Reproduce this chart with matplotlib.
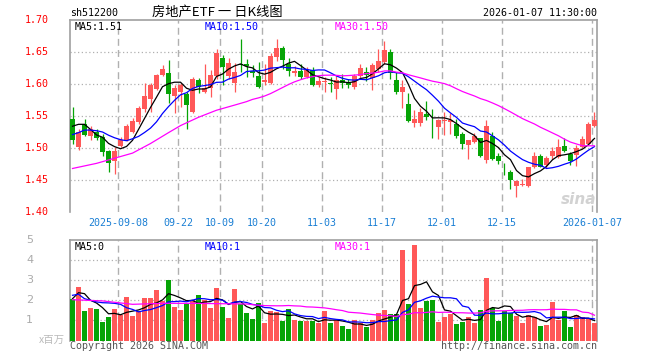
import matplotlib
matplotlib.use("Agg")
import matplotlib.pyplot as plt
import numpy as np
import pandas as pd

# daily bars, 2025-08-27 .. 2026-01-07 (88 trading days)
opens = [1.545, 1.502, 1.538, 1.518, 1.525, 1.517, 1.495, 1.479, 1.503, 1.512,
         1.525, 1.540, 1.561, 1.577, 1.592, 1.614, 1.617, 1.582, 1.587, 1.584,
         1.556, 1.606, 1.587, 1.594, 1.613, 1.640, 1.612, 1.602, 1.632, 1.631,
         1.621, 1.612, 1.603, 1.602, 1.642, 1.656, 1.632, 1.617, 1.620, 1.611,
         1.622, 1.599, 1.603, 1.601, 1.592, 1.607, 1.602, 1.595, 1.612, 1.619,
         1.610, 1.623, 1.634, 1.650, 1.606, 1.587, 1.569, 1.539, 1.539, 1.553,
         1.544, 1.533, 1.542, 1.541, 1.538, 1.522, 1.505, 1.509, 1.515, 1.482,
         1.519, 1.487, 1.463, 1.462, 1.440, 1.442, 1.440, 1.470, 1.488, 1.473,
         1.487, 1.486, 1.503, 1.491, 1.489, 1.501, 1.506, 1.535]
closes = [1.512, 1.525, 1.520, 1.529, 1.516, 1.494, 1.477, 1.495, 1.512, 1.534,
          1.542, 1.562, 1.581, 1.598, 1.614, 1.624, 1.585, 1.593, 1.598, 1.567,
          1.608, 1.595, 1.593, 1.614, 1.649, 1.627, 1.633, 1.618, 1.630, 1.628,
          1.617, 1.596, 1.606, 1.644, 1.656, 1.637, 1.620, 1.620, 1.611, 1.622,
          1.599, 1.605, 1.605, 1.600, 1.606, 1.601, 1.598, 1.613, 1.625, 1.614,
          1.630, 1.636, 1.653, 1.617, 1.588, 1.595, 1.542, 1.545, 1.556, 1.549,
          1.543, 1.543, 1.544, 1.543, 1.518, 1.507, 1.512, 1.518, 1.488, 1.534,
          1.483, 1.480, 1.462, 1.450, 1.449, 1.443, 1.470, 1.488, 1.471, 1.484,
          1.495, 1.502, 1.495, 1.480, 1.500, 1.514, 1.537, 1.544]
highs = [1.564, 1.529, 1.545, 1.535, 1.529, 1.522, 1.497, 1.501, 1.517, 1.537,
         1.547, 1.565, 1.601, 1.602, 1.616, 1.630, 1.637, 1.599, 1.601, 1.587,
         1.611, 1.610, 1.631, 1.622, 1.655, 1.645, 1.641, 1.633, 1.670, 1.639,
         1.629, 1.634, 1.632, 1.648, 1.670, 1.660, 1.641, 1.628, 1.632, 1.627,
         1.626, 1.611, 1.611, 1.611, 1.613, 1.616, 1.608, 1.615, 1.632, 1.627,
         1.633, 1.654, 1.667, 1.654, 1.619, 1.606, 1.586, 1.559, 1.562, 1.573,
         1.561, 1.546, 1.557, 1.554, 1.545, 1.525, 1.513, 1.523, 1.516, 1.543,
         1.525, 1.492, 1.476, 1.465, 1.450, 1.452, 1.471, 1.493, 1.490, 1.488,
         1.502, 1.514, 1.515, 1.493, 1.504, 1.519, 1.541, 1.557]
lows = [1.507, 1.497, 1.518, 1.512, 1.512, 1.487, 1.463, 1.460, 1.502, 1.511,
        1.523, 1.538, 1.557, 1.557, 1.591, 1.612, 1.570, 1.555, 1.564, 1.530,
        1.555, 1.586, 1.586, 1.579, 1.608, 1.598, 1.608, 1.587, 1.618, 1.611,
        1.611, 1.594, 1.598, 1.600, 1.636, 1.623, 1.613, 1.613, 1.608, 1.609,
        1.597, 1.595, 1.587, 1.587, 1.577, 1.593, 1.593, 1.592, 1.608, 1.605,
        1.590, 1.618, 1.632, 1.608, 1.585, 1.562, 1.541, 1.533, 1.534, 1.543,
        1.515, 1.514, 1.520, 1.522, 1.515, 1.498, 1.483, 1.508, 1.486, 1.477,
        1.481, 1.475, 1.458, 1.436, 1.423, 1.441, 1.439, 1.469, 1.470, 1.469,
        1.483, 1.485, 1.493, 1.474, 1.472, 1.500, 1.504, 1.533]
# volume, millions
vols = [2.05, 2.67, 1.45, 1.60, 1.55, 0.90, 1.15, 1.55, 1.25, 2.15,
        1.20, 1.45, 2.10, 2.10, 2.50, 1.95, 3.00, 1.65, 1.50, 1.80,
        2.03, 2.25, 2.00, 1.60, 2.60, 1.65, 1.10, 2.55, 1.80, 1.35,
        1.05, 1.85, 0.85, 1.45, 1.40, 0.95, 1.55, 1.00, 0.95, 0.95,
        0.95, 0.85, 1.45, 0.85, 1.00, 0.70, 0.55, 1.00, 0.85, 0.65,
        1.00, 1.35, 1.50, 1.30, 1.30, 4.50, 1.80, 4.75, 1.60, 1.95,
        2.00, 0.90, 1.15, 1.30, 0.80, 0.90, 1.15, 0.85, 1.50, 3.10,
        1.60, 0.95, 1.45, 1.35, 1.20, 0.85, 1.25, 1.15, 0.70, 0.75,
        1.90, 1.00, 1.45, 0.65, 1.25, 1.15, 1.05, 0.85]

ma5_head_idx = [0, 1, 2, 3]
ma5_head = [1.534, 1.537, 1.537, 1.529]
ma10_head_idx = [0, 1, 2, 3, 4, 5, 6, 7, 8]
ma10_head = [1.521, 1.524, 1.528, 1.528, 1.527, 1.525, 1.520, 1.516, 1.513]
ma30_head_idx = [0, 4, 7, 10, 13, 16, 18, 21, 24, 27]
ma30_head = [1.468, 1.476, 1.484, 1.492, 1.507, 1.524, 1.535, 1.548, 1.559, 1.567]
vma5_head = [2.08, 2.38, 2.33, 2.00]
vma10_head = [2.25, 2.30, 2.08, 2.00, 1.92, 1.88, 1.87, 1.85, 1.80]
vma30_head_idx = [0, 5, 10, 15, 20, 25]
vma30_head = [2.03, 1.97, 1.80, 1.85, 1.85, 1.83]

date_idx = [8, 18, 25, 32, 42, 52, 62, 72, 87]
date_labels = ["2025-09-08", "09-22", "10-09", "10-20", "11-03",
               "11-17", "12-01", "12-15", "2026-01-07"]
price_ticks = [1.40, 1.45, 1.50, 1.55, 1.60, 1.65, 1.70]
vol_ticks = [1, 2, 3, 4, 5]

RED = "#ff5858"
GREEN = "#06a406"
MONO = "DejaVu Sans Mono"
FS = 7.2


def ma_line(vals, n, head_idx, head_vals):
    s = pd.Series(vals).rolling(n).mean()
    return list(head_idx) + list(range(n - 1, len(vals))), list(head_vals) + list(s[n - 1:])


W, H = 660, 360
fig = plt.figure(figsize=(6.6, 3.6), dpi=100)
ax = fig.add_axes([70 / W, 1 - 212 / H, 527 / W, 192 / H])
axv = fig.add_axes([70 / W, 1 - 340.5 / H, 527 / W, 100.5 / H])

idx = np.arange(len(closes))
o, c, h, l = map(np.array, (opens, closes, highs, lows))
cols = [RED if cc >= oo else GREEN for oo, cc in zip(o, c)]
xl = (-0.42, 87.42)

# candles
ax.vlines(idx, l, h, colors=cols, lw=0.9, zorder=3)
ax.bar(idx, np.maximum(np.abs(c - o), 0.0012), bottom=np.minimum(o, c),
       width=0.8, color=cols, zorder=4)
for n, hi, hv, col in [(5, ma5_head_idx, ma5_head, "black"),
                       (10, ma10_head_idx, ma10_head, "#0000ff"),
                       (30, ma30_head_idx, ma30_head, "#ff00ff")]:
    xs, ys = ma_line(closes, n, hi, hv)
    ax.plot(xs, ys, color=col, lw=0.9, zorder=5)

# volume
axv.bar(idx, vols, width=0.8, color=cols, zorder=3)
for n, hi, hv, col in [(5, range(4), vma5_head, "black"),
                       (10, range(9), vma10_head, "#0000ff"),
                       (30, vma30_head_idx, vma30_head, "#ff00ff")]:
    xs, ys = ma_line(vols, n, hi, hv)
    axv.plot(xs, ys, color=col, lw=0.9, zorder=5)

for a in (ax, axv):
    a.set_xlim(*xl)
    a.set_xticks([])
    a.set_yticks([])
    for s in ("top", "left", "right"):
        a.spines[s].set_color("#a0a0a0")
        a.spines[s].set_linewidth(1.2)
    a.spines["bottom"].set_visible(False)
    for d in date_idx:
        a.axvline(d - 0.42, color="#b0b0b0", lw=1, ls=(0, (5, 3)), zorder=1)

ax.set_ylim(1.40, 1.70)
for p in price_ticks[1:-1]:
    ax.axhline(p, color="#b0b0b0", lw=0.9, ls=(0, (1, 2)), zorder=1)
for p in price_ticks:
    ax.text(-0.04, p, "%.2f" % p, transform=ax.get_yaxis_transform(), ha="right",
            va="center", color="red", family=MONO, fontsize=FS)
for d, lab in zip(date_idx, date_labels):
    ax.text(d - 0.42, 1.40, lab, ha="center", va="top", color="#1a7fd4",
            family=MONO, fontsize=FS, transform=ax.transData)
# push date labels a little below the axis
for t in ax.texts[-len(date_idx):]:
    t.set_y(1.40 - 0.0095)

axv.set_ylim(0, 5)
for v in vol_ticks[:-1]:
    axv.axhline(v, color="#b0b0b0", lw=0.9, ls=(0, (1, 2)), zorder=1)
for v in vol_ticks:
    axv.text(-0.07, v, str(v), transform=axv.get_yaxis_transform(), ha="right",
             va="center", color="#aaaaaa", fontsize=8)


def ftext(x, y, s, **kw):
    fig.text(x / W, 1 - y / H, s, va="center", **kw)


ftext(70, 13.5, "sh512200", family=MONO, fontsize=FS)
ftext(217, 12.5, "房地产ETF 一 日K线图", ha="center",
      family=["Noto Sans CJK SC", "DejaVu Sans"], fontsize=9.5)
ftext(597, 13.5, "2026-01-07 11:30:00", ha="right", family=MONO, fontsize=FS)
ftext(75, 26.5, "MA5:1.51", family=MONO, fontsize=FS)
ftext(205, 26.5, "MA10:1.50", family=MONO, fontsize=FS, color="#0000ff")
ftext(335, 26.5, "MA30:1.50", family=MONO, fontsize=FS, color="#ff00ff")
ftext(75, 246.5, "MA5:0", family=MONO, fontsize=FS)
ftext(205, 246.5, "MA10:1", family=MONO, fontsize=FS, color="#0000ff")
ftext(335, 246.5, "MA30:1", family=MONO, fontsize=FS, color="#ff00ff")
ftext(70, 346, "Copyright 2026 SINA.COM", family=MONO, fontsize=FS, color="#555555")
ftext(597, 346, "http://finance.sina.com.cn", ha="right", family=MONO,
      fontsize=FS, color="#555555")
ftext(65, 340, "x百万", ha="right", family=["Noto Sans CJK SC", "DejaVu Sans"],
      fontsize=7.5, color="#bbbbbb")
ftext(596, 199, "sina", ha="right", fontsize=11, fontweight="bold",
      style="italic", color="#d2d2d2")

fig.savefig("out.png", dpi=100, facecolor="white")
